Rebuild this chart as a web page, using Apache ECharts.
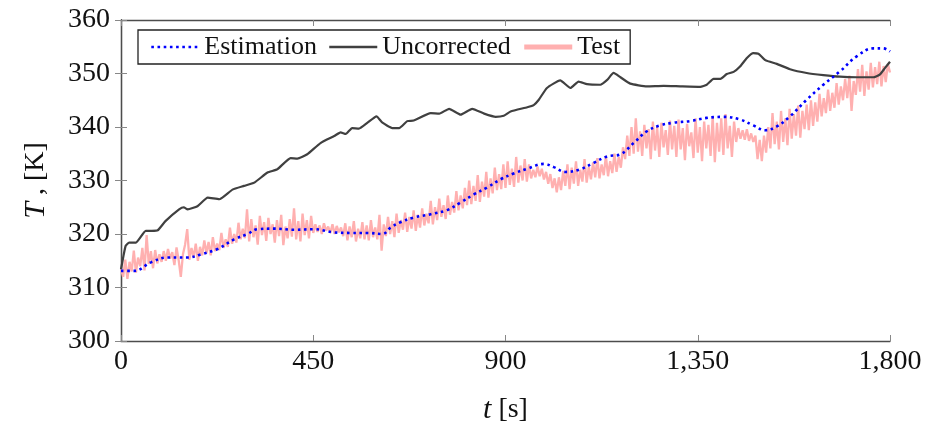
<!DOCTYPE html>
<html>
<head>
<meta charset="utf-8">
<script src="https://cdn.jsdelivr.net/npm/echarts@6/dist/echarts.min.js"></script>
<style>
html,body{margin:0;padding:0;background:#fff;}
#chart{width:925px;height:432px;}
</style>
</head>
<body>
<div id="chart"></div>
<script>
// ---- data ----
const xTickValues = [0, 450, 900, 1350, 1800];
const xTickLabels = ['0', '450', '900', '1,350', '1,800'];
const yTickLabels = ['300', '310', '320', '330', '340', '350', '360'];

const estimation = [
  [0,313.1],[31,313.1],[70,314.7],[109,315.6],[156,315.6],[187,316.2],[226,317.2],[265,319.0],
  [296,320.0],[320,320.9],[358,321.0],[405,320.8],[452,320.9],[499,320.3],[538,320.2],[577,320.2],
  [612,320.0],[631,321.2],[654,322.2],[686,323.1],[725,323.7],[764,324.5],[795,325.9],[826,327.4],
  [857,328.7],[888,330.2],[919,331.3],[951,332.2],[990,333.1],[1013,332.5],[1040,331.6],[1075,332.1],
  [1106,333.3],[1138,334.5],[1169,334.9],[1200,337.0],[1231,339.2],[1262,340.3],[1293,340.8],
  [1332,341.1],[1371,341.7],[1410,341.9],[1449,341.4],[1480,340.3],[1508,339.4],[1535,340.1],
  [1566,342.0],[1605,345.1],[1644,347.9],[1683,350.4],[1722,353.2],[1761,354.7],[1784,354.7],[1800,354.1]
];

const uncorrected = [
  [0,313.4],[6,316.0],[11,317.8],[19,318.4],[35,318.4],[58,320.6],[72,320.6],[86,320.7],[104,322.4],
  [136,324.6],[147,325.0],[156,324.6],[179,325.2],[203,326.8],[230,326.5],[261,328.3],[288,329.0],
  [312,329.6],[343,331.5],[366,332.1],[397,334.2],[413,334.1],[436,334.9],[467,337.0],[499,338.3],
  [514,339.0],[526,338.7],[541,339.8],[557,339.7],[577,340.8],[598,342.0],[612,340.8],[635,339.8],
  [651,339.8],[670,341.1],[685,341.2],[725,342.6],[745,342.5],[768,343.4],[795,342.3],[822,343.4],
  [850,342.5],[877,341.9],[896,342.1],[912,342.9],[951,343.7],[966,344.1],[978,345.1],[997,347.3],
  [1028,348.7],[1052,347.3],[1071,348.5],[1091,348.0],[1122,347.9],[1138,348.8],[1153,350.1],
  [1169,349.3],[1192,348.1],[1231,347.6],[1270,347.7],[1309,347.6],[1356,347.5],[1371,347.9],
  [1387,349.0],[1403,349.0],[1418,349.9],[1434,350.3],[1449,351.3],[1465,352.9],[1480,353.8],
  [1492,353.7],[1508,352.5],[1535,351.8],[1566,350.8],[1605,350.1],[1644,349.7],[1683,349.4],
  [1722,349.3],[1761,349.3],[1776,349.8],[1788,351.0],[1800,352.2]
];

// Test measurement, sampled every 5 s from t = 0 to 1800 (one row = 100 s)
const testStep = 5;
const testValues = [
  313.5,312.0,315.2,311.6,314.8,313.0,316.9,312.8,315.6,314.0,317.4,313.2,319.8,314.4,316.8,313.6,317.0,314.5,316.2,314.8,
  316.8,315.0,317.2,315.4,316.6,314.2,317.5,315.1,312.0,316.2,318.0,320.9,315.2,317.4,315.6,318.2,315.0,317.6,316.0,318.8,
  316.4,318.5,316.0,319.4,316.8,318.2,317.0,320.2,317.4,319.0,317.6,321.2,318.2,320.0,318.4,322.1,319.0,321.0,319.2,324.6,
  318.6,322.8,319.4,321.6,318.0,323.4,319.8,322.2,318.7,323.0,320.0,321.8,318.4,322.6,319.6,323.6,317.9,321.4,319.2,322.8,
  319.5,324.8,319.0,322.4,318.6,323.8,319.8,322.6,319.2,323.4,320.2,321.8,320.4,321.6,320.0,322.0,320.6,321.4,320.2,321.8,
  320.0,321.5,320.3,321.2,319.6,322.0,318.8,321.4,319.4,322.4,318.6,321.0,319.2,322.2,319.0,321.6,318.8,322.6,319.4,321.2,
  319.0,323.6,316.9,321.8,319.6,323.2,320.0,322.4,319.4,323.8,320.2,322.6,320.8,324.0,320.4,323.2,321.0,324.4,320.6,323.6,
  321.2,324.8,321.6,323.8,322.0,326.2,321.8,325.0,322.6,326.6,323.2,325.4,322.8,327.2,323.6,326.0,324.0,328.0,324.4,327.2,
  324.8,328.6,325.4,330.0,325.6,329.0,326.2,331.0,326.0,329.8,327.0,331.6,326.8,330.4,327.6,332.4,328.2,331.2,328.4,333.0,
  328.6,333.6,329.2,332.2,328.8,334.4,329.6,332.8,330.0,334.0,329.8,333.0,330.4,332.0,330.6,332.6,330.8,332.2,330.2,331.6,
  329.4,331.2,328.6,330.4,327.8,330.6,328.2,331.8,329.0,333.0,328.4,332.4,329.4,333.6,329.0,332.0,329.8,334.0,329.6,332.6,
  330.2,333.4,330.6,334.2,330.4,333.0,331.0,334.6,330.8,333.6,331.4,335.0,331.6,334.4,332.4,336.2,334.0,338.4,334.6,340.0,
  335.0,341.6,335.4,339.2,334.6,340.4,336.0,339.6,334.0,341.0,335.6,340.0,334.4,340.8,336.2,339.4,334.8,341.2,335.8,340.2,
  334.4,341.4,335.8,339.8,333.8,340.6,336.4,339.0,334.2,341.6,335.2,340.0,333.6,341.0,336.0,340.4,334.6,342.0,333.4,340.8,
  335.4,341.6,334.8,342.4,336.0,340.2,334.4,341.0,337.2,339.8,337.8,339.4,337.6,339.6,337.4,338.8,337.2,338.4,334.0,337.6,
  333.6,338.4,335.2,340.0,336.0,342.6,336.8,341.0,335.8,343.0,337.2,341.6,336.6,343.4,337.8,342.4,338.4,344.0,338.0,343.0,
  339.6,344.2,339.4,345.0,340.2,344.6,341.0,346.2,342.0,345.4,342.6,347.0,343.0,346.4,343.6,348.2,344.2,347.6,345.0,349.0,
  345.4,349.6,343.0,348.6,346.0,350.8,346.6,351.6,345.8,350.4,347.0,352.0,347.4,351.2,348.0,352.2,347.6,351.4,348.4,351.8,
  350.2
];

// ---- chart ----
const testData = testValues.map((v, i) => [i * testStep, v]);
const FONT = 'Liberation Serif';
const frame = '#4d4d4d';
const ink = '#111';

const chart = echarts.init(document.getElementById('chart'), null, {renderer: 'canvas'});
const xLabelFmt = v => { const k = xTickValues.indexOf(v); return k >= 0 ? xTickLabels[k] : ''; };
const yLabelFmt = v => { const s = String(Math.round(v)); return yTickLabels.indexOf(s) >= 0 ? s : ''; };

chart.setOption({
  animation: false,
  backgroundColor: '#fff',
  textStyle: {fontFamily: FONT},
  grid: {left: 121, right: 35, top: 20, bottom: 91, containLabel: false},
  legend: {
    left: 138, top: 30,
    orient: 'horizontal',
    itemWidth: 48, itemHeight: 14, itemGap: 11,
    padding: [4, 10, 4, 12],
    borderColor: '#222', borderWidth: 1.3, backgroundColor: '#fff',
    itemStyle: {opacity: 0},
    textStyle: {fontFamily: FONT, fontSize: 26, color: ink},
    data: [
      {name: 'Estimation', lineStyle: {width: 2.6}},
      {name: 'Uncorrected', lineStyle: {width: 2.6}},
      {name: 'Test', lineStyle: {width: 5}}
    ]
  },
  xAxis: [
    {
      type: 'value', min: 0, max: 1800, interval: 450, position: 'bottom',
      name: '{i|t} [s]', nameLocation: 'middle', nameGap: 54,
      nameTextStyle: {fontFamily: FONT, fontSize: 28, color: ink,
        rich: {i: {fontFamily: FONT, fontStyle: 'italic', fontSize: 30, color: ink}}},
      axisLine: {show: true, lineStyle: {color: frame, width: 1.3}},
      axisTick: {show: true, inside: true, length: 6, lineStyle: {color: '#888'}},
      axisLabel: {formatter: xLabelFmt, fontFamily: FONT, fontSize: 28, color: ink, margin: 7},
      splitLine: {show: false}
    },
    {
      type: 'value', min: 0, max: 1800, interval: 450, position: 'top',
      axisLine: {show: true, lineStyle: {color: frame, width: 1.3}},
      axisTick: {show: true, inside: true, length: 6, lineStyle: {color: '#888'}},
      axisLabel: {show: false}, splitLine: {show: false}
    }
  ],
  yAxis: [
    {
      type: 'value', min: 300, max: 360, interval: 10, position: 'left',
      name: '{i|T} , [K]', nameLocation: 'middle', nameGap: 70, nameRotate: 90,
      nameTextStyle: {fontFamily: FONT, fontSize: 28, color: ink,
        rich: {i: {fontFamily: FONT, fontStyle: 'italic', fontSize: 30, color: ink}}},
      axisLine: {show: true, lineStyle: {color: frame, width: 1.3}},
      axisTick: {show: true, inside: true, length: 6, lineStyle: {color: '#888'}},
      axisLabel: {formatter: yLabelFmt, fontFamily: FONT, fontSize: 28, color: ink, margin: 11},
      splitLine: {show: false}
    },
    {
      type: 'value', min: 300, max: 360, interval: 10, position: 'right',
      axisLine: {show: true, lineStyle: {color: frame, width: 1.3}},
      axisTick: {show: true, inside: true, length: 6, lineStyle: {color: '#888'}},
      axisLabel: {show: false}, splitLine: {show: false}
    }
  ],
  series: [
    {
      name: 'Test', type: 'line', data: testData, symbol: 'none', z: 1,
      lineStyle: {color: '#ffb0b0', width: 2.3},
      itemStyle: {color: '#ffb0b0'}
    },
    {
      name: 'Uncorrected', type: 'line', data: uncorrected, symbol: 'none', z: 2, smooth: 0.15,
      lineStyle: {color: '#404040', width: 2.2},
      itemStyle: {color: '#404040'}
    },
    {
      name: 'Estimation', type: 'line', data: estimation, symbol: 'none', z: 3, smooth: 0.4,
      lineStyle: {color: '#0000ff', width: 2.6, type: [2.6, 3.6]},
      itemStyle: {color: '#0000ff'}
    }
  ]
});
</script>
</body>
</html>
